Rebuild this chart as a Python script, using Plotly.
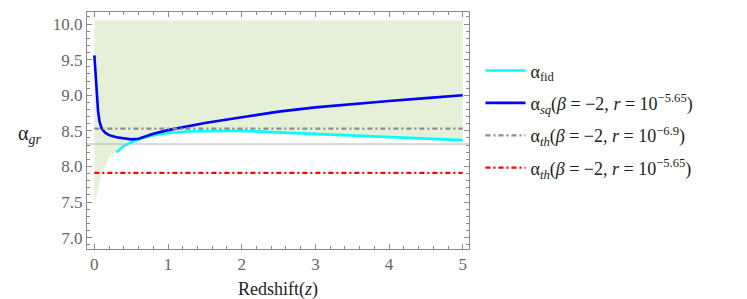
import plotly.graph_objects as go

# ---- data ----
z_fid = [0.30, 0.40, 0.53, 0.65, 0.80, 1.00, 1.25, 1.50, 1.75, 2.00, 2.50, 3.00, 3.50, 4.00, 4.50, 5.00]
a_fid = [8.20, 8.29, 8.35, 8.40, 8.44, 8.47, 8.49, 8.50, 8.50, 8.50, 8.48, 8.46, 8.44, 8.41, 8.39, 8.37]

z_sq = [0.00, 0.01, 0.02, 0.03, 0.04, 0.05, 0.07, 0.10, 0.15, 0.20, 0.30, 0.40, 0.50, 0.60, 0.80,
        1.00, 1.25, 1.50, 2.00, 2.50, 3.00, 3.50, 4.00, 4.50, 5.00]
a_sq = [9.56, 9.40, 9.22, 9.04, 8.90, 8.78, 8.63, 8.53, 8.47, 8.44, 8.41, 8.39, 8.38, 8.39, 8.46,
        8.51, 8.565, 8.61, 8.69, 8.77, 8.83, 8.88, 8.92, 8.96, 9.00]

# lower edge of the shaded band before the fiducial curve starts
z_low = [0.00, 0.035, 0.08, 0.12, 0.17, 0.21, 0.26]
a_low = [7.46, 7.63, 7.82, 7.96, 8.07, 8.14, 8.18]
band_top = 10.05

z_th = [0, 5]
a_th_69 = 8.53
a_th_565 = 7.91
axis_line_y = 8.315

x_ticks = [0, 1, 2, 3, 4, 5]
y_ticks = [7.0, 7.5, 8.0, 8.5, 9.0, 9.5, 10.0]

SERIF = "'Liberation Serif', 'Times New Roman', Times, serif"

# ---- figure ----
fig = go.Figure()

band_x = z_low + z_fid
band_lo = a_low + a_fid
fig.add_trace(go.Scatter(x=band_x, y=band_lo, mode="lines", line=dict(width=0),
                         showlegend=False, hoverinfo="skip"))
fig.add_trace(go.Scatter(x=band_x, y=[band_top] * len(band_x), mode="lines", line=dict(width=0),
                         fill="tonexty", fillcolor="rgb(228,240,216)",
                         showlegend=False, hoverinfo="skip"))

fig.add_hline(y=axis_line_y, line=dict(color="#b4b4b4", width=1))

fig.add_trace(go.Scatter(x=z_fid, y=a_fid, mode="lines", line=dict(color="#00ffff", width=2.6),
                         name="α<sub>fid</sub>", legendgroup="g1"))
fig.add_trace(go.Scatter(x=z_sq, y=a_sq, mode="lines", line=dict(color="#0000ff", width=2.6),
                         name="α<sub><i>sq</i></sub>(<i>β</i> = −2, <i>r</i> = 10<sup>−5.65</sup>)",
                         legendgroup="g2"))
fig.add_trace(go.Scatter(x=z_th, y=[a_th_69] * 2, mode="lines",
                         line=dict(color="#8c8c8c", width=2.2, dash="5px,3px,2px,3px"),
                         name="α<sub><i>th</i></sub>(<i>β</i> = −2, <i>r</i> = 10<sup>−6.9</sup>)",
                         legendgroup="g3"))
fig.add_trace(go.Scatter(x=z_th, y=[a_th_565] * 2, mode="lines",
                         line=dict(color="#ff0000", width=2.2, dash="5px,3px,2px,3px"),
                         name="α<sub><i>th</i></sub>(<i>β</i> = −2, <i>r</i> = 10<sup>−5.65</sup>)",
                         legendgroup="g4"))

axis_common = dict(showline=True, linecolor="#8a8a8a", linewidth=1, mirror="allticks",
                   ticks="inside", tickcolor="#8a8a8a", ticklen=5, tickwidth=1,
                   showgrid=False, zeroline=False, automargin=False,
                   tickfont=dict(family=SERIF, size=17, color="#666666"))

fig.update_xaxes(range=[-0.1, 5.085], tickvals=x_ticks, ticktext=[str(v) for v in x_ticks],
                 minor=dict(dtick=0.2, tick0=0, ticks="inside", ticklen=3, tickcolor="#8a8a8a", showgrid=False),
                 title=dict(text="Redshift(<i>z</i>)", font=dict(family=SERIF, size=18, color="#222222"),
                            standoff=8),
                 **axis_common)
fig.update_yaxes(range=[6.84, 10.17], tickvals=y_ticks, ticktext=[f"{v:.1f}" for v in y_ticks],
                 minor=dict(dtick=0.1, tick0=7.0, ticks="inside", ticklen=3, tickcolor="#8a8a8a", showgrid=False),
                 **axis_common)

fig.add_annotation(text="α<sub><i>gr</i></sub>", xref="paper", yref="y", x=-0.115, y=8.45,
                   xanchor="right", yanchor="middle", showarrow=False,
                   font=dict(family=SERIF, size=20, color="#222222"))

fig.update_layout(
    width=747, height=299,
    margin=dict(l=79, r=286, t=4, b=58, autoexpand=False),
    plot_bgcolor="white", paper_bgcolor="white",
    legend=dict(x=1.03, y=0.83, xanchor="left", yanchor="top", traceorder="grouped",
                font=dict(family=SERIF, size=18, color="#222222"),
                bgcolor="rgba(0,0,0,0)", itemwidth=40, tracegroupgap=6),
)

fig.write_html("out.html")
